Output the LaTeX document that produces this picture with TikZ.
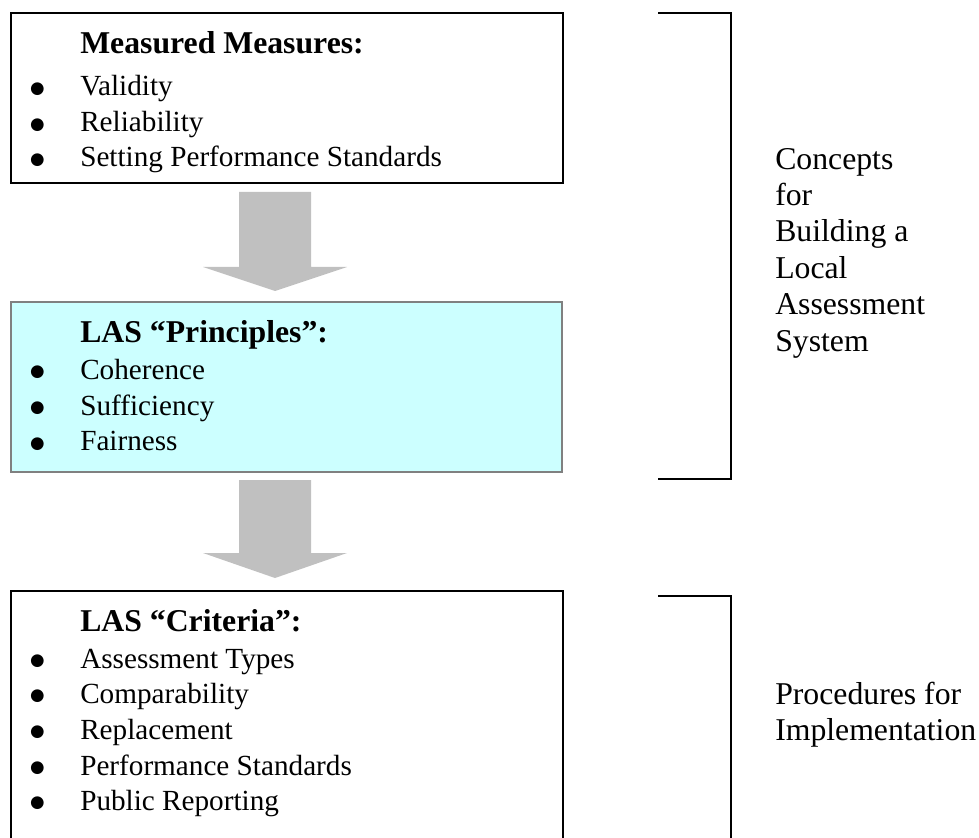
\documentclass[tikz,border=0pt]{standalone}
\usepackage{fontspec}
\setmainfont{Liberation Serif}
\newfontfamily\bulfont{DejaVu Sans}
\usetikzlibrary{calc}
\definecolor{arrowgray}{HTML}{C0C0C0}
\definecolor{lightcyan}{HTML}{CCFFFF}
\definecolor{bordergray}{HTML}{808080}
\tikzset{
  itemtext/.style={anchor=base west, inner sep=0pt, font=\fontsize{21.9}{26}\selectfont},
  headtext/.style={anchor=base west, inner sep=0pt, font=\fontsize{23.8}{28}\selectfont\bfseries},
  bul/.style={anchor=base, inner sep=0pt, yshift=1.8pt, font=\bulfont\fontsize{12.5}{13}\selectfont},
  sidetext/.style={anchor=base west, inner sep=0pt, font=\fontsize{23.8}{28}\selectfont},
  blockarrow/.style={fill=arrowgray, draw=none},
  bracketline/.style={draw=black, line width=1.5pt},
}
\begin{document}
\begin{tikzpicture}[x=0.75pt, y=-0.75pt]
\useasboundingbox (0,0) rectangle (979,838);
\clip (0,0) rectangle (979,838);
\fill[white] (0,0) rectangle (979,838);

% boxes
\draw[black, line width=1.6pt] (11,13) rectangle (563,183);
\coordinate (b1s) at (275,183);
\draw[bordergray, fill=lightcyan, line width=1.6pt] (11,302) rectangle (562,472);
\coordinate (b2n) at (275,302);
\coordinate (b2s) at (275,472);
\draw[black, line width=1.6pt] (11,850) -- (11,591) -- (563,591) -- (563,850);
\coordinate (b3n) at (275,591);

% block arrows
\fill[blockarrow] ($(b1s)+(-36,9)$) -- ($(b1s)+(36,9)$) -- ($(b1s)+(36,84)$) -- ($(b1s)+(72,84)$)
  -- (b2n |- 0,291) -- ($(b1s)+(-72,84)$) -- ($(b1s)+(-36,84)$) -- cycle;
\fill[blockarrow] ($(b2s)+(-36,8)$) -- ($(b2s)+(36,8)$) -- ($(b2s)+(36,81)$) -- ($(b2s)+(72,81)$)
  -- (b3n |- 0,578) -- ($(b2s)+(-72,81)$) -- ($(b2s)+(-36,81)$) -- cycle;

% box 1 text
\node[headtext] (h1) at (80,53.3) {Measured Measures:};
\node[bul] (u11) at (37.5,96) {●};
\node[itemtext] (i11) at (80,96) {Validity};
\node[bul] (u12) at (37.5,131.7) {●};
\node[itemtext] (i12) at (80,131.7) {Reliability};
\node[bul] (u13) at (37.5,166.7) {●};
\node[itemtext] (i13) at (80,166.7) {Setting Performance Standards};

% box 2 text
\node[headtext] (h2) at (80,342.7) {LAS “Principles”:};
\node[bul] (u21) at (37.5,379.3) {●};
\node[itemtext] (i21) at (80,379.3) {Coherence};
\node[bul] (u22) at (37.5,415) {●};
\node[itemtext] (i22) at (80,415) {Sufficiency};
\node[bul] (u23) at (37.5,450.7) {●};
\node[itemtext] (i23) at (80,450.7) {Fairness};

% box 3 text
\node[headtext] (h3) at (80,631.7) {LAS “Criteria”:};
\node[bul] (u31) at (37.5,668.3) {●};
\node[itemtext] (i31) at (80,668.3) {Assessment Types};
\node[bul] (u32) at (37.5,703.3) {●};
\node[itemtext] (i32) at (80,703.3) {Comparability};
\node[bul] (u33) at (37.5,739.3) {●};
\node[itemtext] (i33) at (80,739.3) {Replacement};
\node[bul] (u34) at (37.5,775) {●};
\node[itemtext] (i34) at (80,775) {Performance Standards};
\node[bul] (u35) at (37.5,810) {●};
\node[itemtext] (i35) at (80,810) {Public Reporting};

% brackets
\draw[bracketline] (658,13.5) -- (731,13.5) -- (731,479) -- (658,479);
\draw[bracketline] (658,596) -- (731,596) -- (731,850);

% side texts
\node[sidetext] (s1) at (775,169.3) {Concepts};
\node[sidetext] (s2) at (775,205.5) {for};
\node[sidetext] (s3) at (775,242) {Building a};
\node[sidetext] (s4) at (775,278.5) {Local};
\node[sidetext] (s5) at (775,315) {Assessment};
\node[sidetext] (s6) at (775,351.5) {System};
\node[sidetext] (p1) at (775,704) {Procedures for};
\node[sidetext] (p2) at (775,740) {Implementation};
\end{tikzpicture}
\end{document}
